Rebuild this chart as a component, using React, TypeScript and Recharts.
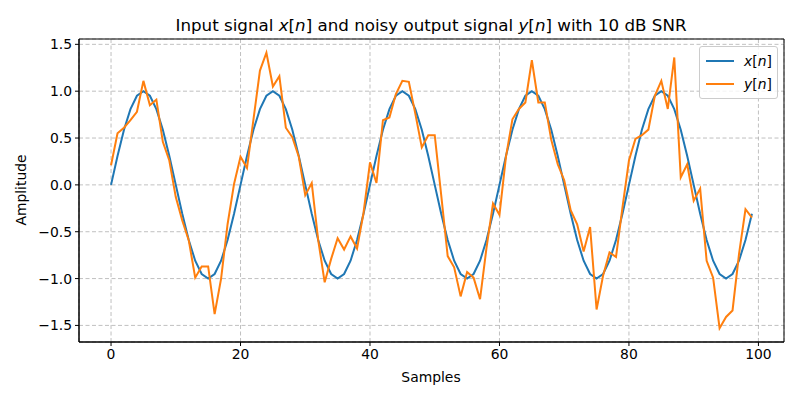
import {
  LineChart,
  Line,
  XAxis,
  YAxis,
  CartesianGrid,
  ReferenceArea,
} from "recharts";

// input sine, one value per sample (period 20)
const inputSignal = [
  0, 0.309, 0.588, 0.809, 0.951, 1, 0.951, 0.809, 0.588, 0.309,
  0, -0.309, -0.588, -0.809, -0.951, -1, -0.951, -0.809, -0.588, -0.309,
  0, 0.309, 0.588, 0.809, 0.951, 1, 0.951, 0.809, 0.588, 0.309,
  0, -0.309, -0.588, -0.809, -0.951, -1, -0.951, -0.809, -0.588, -0.309,
  0, 0.309, 0.588, 0.809, 0.951, 1, 0.951, 0.809, 0.588, 0.309,
  0, -0.309, -0.588, -0.809, -0.951, -1, -0.951, -0.809, -0.588, -0.309,
  0, 0.309, 0.588, 0.809, 0.951, 1, 0.951, 0.809, 0.588, 0.309,
  0, -0.309, -0.588, -0.809, -0.951, -1, -0.951, -0.809, -0.588, -0.309,
  0, 0.309, 0.588, 0.809, 0.951, 1, 0.951, 0.809, 0.588, 0.309,
  0, -0.309, -0.588, -0.809, -0.951, -1, -0.951, -0.809, -0.588, -0.309,
];

// noisy output
const outputSignal = [
  0.21, 0.55, 0.61, 0.69, 0.78, 1.11, 0.85, 0.91, 0.46, 0.26,
  -0.13, -0.38, -0.59, -0.99, -0.87, -0.87, -1.38, -1.0, -0.42, 0.01,
  0.3, 0.18, 0.7, 1.22, 1.41, 1.05, 1.16, 0.61, 0.51, 0.3,
  -0.11, 0.02, -0.59, -1.04, -0.79, -0.57, -0.69, -0.55, -0.68, -0.3,
  0.24, 0.02, 0.69, 0.72, 0.97, 1.11, 1.1, 0.76, 0.4, 0.53,
  0.53, -0.11, -0.76, -0.88, -1.19, -0.93, -0.99, -1.22, -0.67, -0.2,
  -0.32, 0.3, 0.7, 0.81, 0.88, 1.33, 0.88, 0.88, 0.48, 0.22,
  0.05, -0.27, -0.42, -0.71, -0.45, -1.33, -0.97, -0.72, -0.77, -0.24,
  0.26, 0.49, 0.53, 0.59, 0.95, 1.11, 0.81, 1.36, 0.08, 0.22,
  -0.17, -0.04, -0.81, -0.99, -1.53, -1.41, -1.34, -0.74, -0.26, -0.35,
];

const xTicks = [0, 20, 40, 60, 80, 100];
const yTicks = [-1.5, -1.0, -0.5, 0, 0.5, 1.0, 1.5];
const xDomain = [-4.95, 103.95];
const yDomain = [-1.677, 1.557];

const data = outputSignal.map((y, n) => ({ n, x: inputSignal[n], y }));

const FONT = "'DejaVu Sans', sans-serif";
const BLUE = "#1f77b4";
const ORANGE = "#ff7f0e";

const fmtY = (v: number) => v.toFixed(1).replace("-", "\u2212");

export default function App() {
  const tick = { fill: "#000", fontSize: 13.9, fontFamily: FONT };
  return (
    <div
      style={{
        position: "absolute",
        left: 0,
        top: 0,
        width: 800,
        height: 400,
        background: "#fff",
        fontFamily: FONT,
        color: "#000",
      }}
    >
      <LineChart
        width={800}
        height={400}
        data={data}
        margin={{ top: 39, right: 16, left: 0, bottom: 28 }}
      >
        <CartesianGrid
          stroke="#b0b0b0"
          strokeWidth={0.8}
          strokeDasharray="4 2.5"
        />
        <XAxis
          dataKey="n"
          type="number"
          domain={xDomain}
          ticks={xTicks}
          allowDataOverflow
          height={30}
          tick={tick}
          tickSize={4}
          tickMargin={3}
          stroke="#000"
        />
        <YAxis
          type="number"
          domain={yDomain}
          ticks={yTicks}
          allowDataOverflow
          width={79}
          tick={tick}
          tickSize={4}
          tickMargin={3}
          tickFormatter={fmtY}
          stroke="#000"
        />
        <ReferenceArea
          x1={xDomain[0]}
          x2={xDomain[1]}
          y1={yDomain[0]}
          y2={yDomain[1]}
          fill="none"
          stroke="#000"
          strokeWidth={1}
          ifOverflow="visible"
        />
        <Line
          dataKey="x"
          stroke={BLUE}
          strokeWidth={2}
          dot={false}
          type="linear"
          isAnimationActive={false}
        />
        <Line
          dataKey="y"
          stroke={ORANGE}
          strokeWidth={2}
          dot={false}
          type="linear"
          isAnimationActive={false}
        />
      </LineChart>

      <div
        style={{
          position: "absolute",
          left: 431,
          top: 25,
          transform: "translate(-50%, -50%)",
          fontSize: 16.7,
          whiteSpace: "nowrap",
        }}
      >
        Input signal <i>x</i>[<i>n</i>] and noisy output signal <i>y</i>[<i>n</i>] with 10 dB SNR
      </div>

      <div
        style={{
          position: "absolute",
          left: 431,
          top: 377,
          transform: "translate(-50%, -50%)",
          fontSize: 13.9,
        }}
      >
        Samples
      </div>

      <div
        style={{
          position: "absolute",
          left: 21,
          top: 190,
          transform: "translate(-50%, -50%) rotate(-90deg)",
          fontSize: 13.9,
          whiteSpace: "nowrap",
        }}
      >
        Amplitude
      </div>

      <div
        style={{
          position: "absolute",
          left: 699,
          top: 46,
          width: 77,
          height: 51,
          border: "1px solid #cccccc",
          borderRadius: 3,
          background: "rgba(255,255,255,0.8)",
          fontSize: 13.9,
        }}
      >
        {[
          { c: BLUE, v: "x" },
          { c: ORANGE, v: "y" },
        ].map((it, i) => (
          <div
            key={it.v}
            style={{
              position: "absolute",
              left: 6,
              top: 5 + i * 23,
              display: "flex",
              alignItems: "center",
              height: 18,
            }}
          >
            <div style={{ width: 28, height: 2, background: it.c }} />
            <span style={{ marginLeft: 10, whiteSpace: "nowrap" }}>
              <i>{it.v}</i>[<i>n</i>]
            </span>
          </div>
        ))}
      </div>
    </div>
  );
}
